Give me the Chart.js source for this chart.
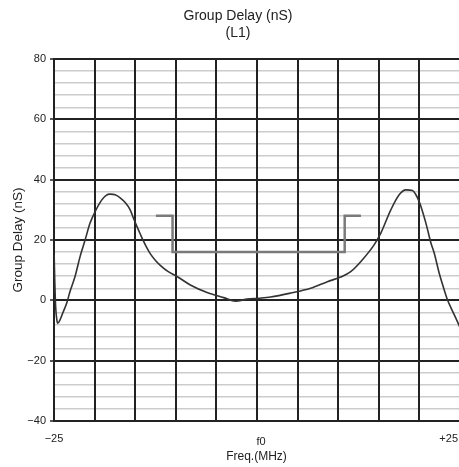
<!DOCTYPE html>
<html>
<head>
<meta charset="utf-8">
<script src="https://cdn.jsdelivr.net/npm/chart.js@4/dist/chart.umd.min.js"></script>
<style>
  html, body { margin: 0; padding: 0; background: #fff; overflow: hidden; }
  #wrap { width: 459px; height: 467px; overflow: hidden; }
</style>
</head>
<body>
<div id="wrap"><canvas id="c" width="460" height="467"></canvas></div>
<script>
// ---- Data ----
const titleLines = ['Group Delay (nS)', '(L1)'];
const yTitle = 'Group Delay (nS)';
const xTitle = 'Freq.(MHz)';
const xTickValues = [-25, 0, 25];
const xTickLabels = ['\u221225', 'f0', '+25'];
const yMajorTicks = [-40, -20, 0, 20, 40, 60, 80];

// measured group delay curve
const freq = [-24.98, -24.9, -24.8, -24.65, -24.54, -24.26, -23.89, -23.43, -23.02, -22.41,
  -21.79, -21.17, -20.56, -19.94, -19.11, -18.58, -18.09, -17.47, -16.85, -16.23,
  -15.62, -15.21, -14.79, -14.38, -13.98, -13.56, -13.15, -12.53, -11.91, -10.93,
  -9.85, -8.21, -6.15, -4.10, -2.65, -1.21, 0.22, 1.67, 4.14, 6.60,
  8.67, 10.31, 11.54, 12.96, 14.42, 15.25, 16.48, 17.51, 18.33, 19.16,
  19.57, 19.98, 20.19, 20.80, 21.42, 21.83, 22.44, 22.86, 23.48, 23.89,
  24.5, 25.0];
const delay = [15, 6, -2, -6.5, -7.6, -6.5, -4, -0.9, 3, 7.9,
  14.5, 20, 25.6, 29.4, 33.3, 34.8, 35.2, 35, 34, 32.4,
  30, 27.2, 24.5, 22, 19.6, 17.4, 15.5, 13.3, 11.6, 9.5,
  7.9, 5.1, 2.6, 0.9, -0.3, 0.4, 0.7, 1.1, 2.4, 4.0,
  6.2, 7.7, 9.5, 13.4, 18.4, 22.3, 30, 35, 36.6, 36.4,
  35, 32.7, 31.1, 25.6, 19, 15.6, 9, 5.2, 0, -2.5,
  -6, -9];

// specification mask
const maskFreq = [-12.45, -10.4, -10.4, 10.8, 10.8, 12.8];
const maskDelay = [28, 28, 16, 16, 28, 28];

// ---- Chart ----
const FONT = "'Liberation Sans', Arial, sans-serif";
const TXT = '#222';

const textPlugin = {
  id: 'texts',
  afterDraw(chart) {
    const ctx = chart.ctx;
    const xs = chart.scales.x;
    const area = chart.chartArea;
    ctx.save();
    ctx.fillStyle = TXT;
    ctx.textBaseline = 'middle';
    // title
    ctx.font = '14px ' + FONT;
    ctx.textAlign = 'center';
    ctx.fillText(titleLines[0], 238, 16.5);
    ctx.fillText(titleLines[1], 238, 33.5);
    // x tick labels
    ctx.font = '11px ' + FONT;
    xTickValues.forEach((v, i) => {
      let px = xs.getPixelForValue(v);
      const w = ctx.measureText(xTickLabels[i]).width;
      if (px + w / 2 > 458) { ctx.textAlign = 'right'; px = 458; }
      else { ctx.textAlign = 'center'; if (v === 0) px += 4; }
      ctx.fillText(xTickLabels[i], px, v === 0 ? 442 : 439);
    });
    // x title
    ctx.font = '12px ' + FONT;
    ctx.textAlign = 'center';
    ctx.fillText(xTitle, (area.left + 459) / 2, 456.5);
    ctx.restore();
  }
};

new Chart(document.getElementById('c'), {
  type: 'line',
  data: {
    datasets: [
      {
        data: freq.map((f, i) => ({ x: f, y: delay[i] })),
        borderColor: '#333',
        borderWidth: 1.6,
        pointRadius: 0,
        cubicInterpolationMode: 'monotone',
        fill: false,
        order: 1
      },
      {
        data: maskFreq.map((f, i) => ({ x: f, y: maskDelay[i] })),
        borderColor: '#7a7a7a',
        borderWidth: 2.5,
        pointRadius: 0,
        tension: 0,
        fill: false,
        order: 2
      }
    ]
  },
  options: {
    responsive: false,
    animation: false,
    devicePixelRatio: 1,
    layout: { padding: { top: 59, right: 0, left: 0, bottom: 0 } },
    plugins: { legend: { display: false }, tooltip: { enabled: false }, title: { display: false } },
    scales: {
      x: {
        type: 'linear',
        min: -25, max: 25,
        ticks: { display: false, stepSize: 5 },
        grid: { color: '#222', lineWidth: 2, drawTicks: false, z: 0 },
        border: { color: '#222', width: 2 },
        afterFit(s) { s.height = 46; }
      },
      y: {
        min: -40, max: 80,
        ticks: {
          stepSize: 4,
          padding: 4,
          color: TXT,
          font: { family: FONT, size: 11 },
          autoSkip: false,
          callback: v => (yMajorTicks.includes(v) ? (v < 0 ? '\u2212' + Math.abs(v) : String(v)) : '')
        },
        grid: {
          z: -1,
          tickLength: 4,
          color: c => (c.tick && c.tick.value % 20 === 0 ? '#222' : '#cccccc'),
          lineWidth: c => (c.tick && c.tick.value % 20 === 0 ? 2 : 1.5),
          tickColor: c => (c.tick && c.tick.value % 20 === 0 ? '#222' : 'rgba(0,0,0,0)'),
          tickWidth: 1.5
        },
        border: { color: '#222', width: 2 },
        title: {
          display: true,
          text: yTitle,
          color: TXT,
          font: { family: FONT, size: 13.5 },
          padding: { top: 10, bottom: 0 }
        },
        afterFit(s) { s.width = 54; }
      }
    }
  },
  plugins: [textPlugin]
});
</script>
</body>
</html>
